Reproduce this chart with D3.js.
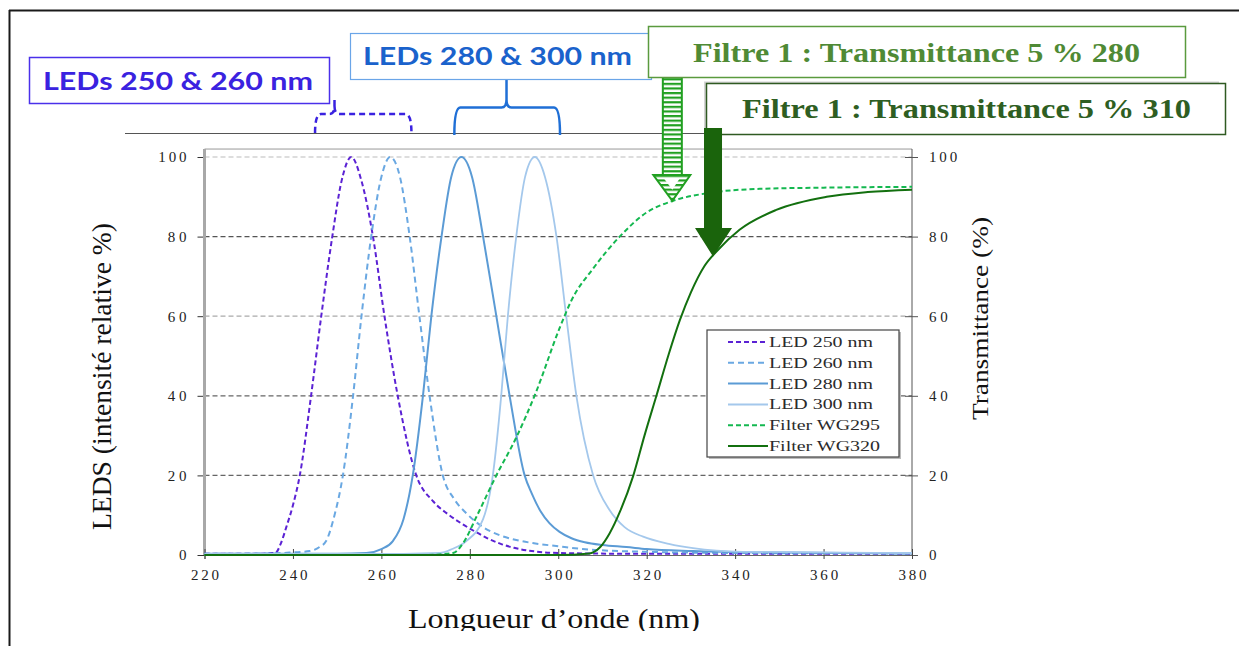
<!DOCTYPE html>
<html>
<head>
<meta charset="utf-8">
<script src="https://cdn.jsdelivr.net/npm/d3@7"></script>
<style>
  body { margin: 0; background: #fff; }
  svg { display: block; }
</style>
</head>
<body>
<svg id="chart" width="1239" height="646"></svg>
<script>
// Spectra (wavelength in nm, value in %)
var led250Nm  = [220, 230, 236, 237.3, 238.5, 240, 241.5, 244.1, 246.4, 248.9, 251, 253.2, 255.5, 258.1, 260.7, 263.7, 267.9, 271.7, 275, 278, 281, 284, 287, 290, 294, 300, 320, 350, 380];
var led250Val = [0.3, 0.3, 0.5, 3, 7, 12.5, 19.7, 40, 60, 80, 94, 100, 94, 80, 60, 40, 20, 13.5, 10.3, 8, 6, 4.2, 2.8, 1.8, 1, 0.5, 0.3, 0.3, 0.3];

var led260Nm  = [220, 235, 239.2, 243.8, 246, 247.5, 249.4, 251.3, 253.6, 255.5, 257.7, 260, 262, 264.2, 266.4, 268.6, 270.9, 273.9, 276.5, 279.2, 283, 286.7, 290, 294.2, 300, 305.5, 320, 340, 380];
var led260Val = [0.3, 0.4, 0.6, 1, 2, 3.5, 10, 20, 40, 60, 80, 95, 100, 95, 80, 60, 40, 20, 14, 10.5, 7, 5, 3.9, 3, 2.2, 1.5, 0.8, 0.5, 0.4];

var led280Nm  = [220, 250, 256.6, 260, 262.6, 265, 267.1, 269.4, 271.3, 273.6, 275.8, 278.1, 280.5, 283, 286, 289, 292.4, 294, 296, 298, 300.3, 303, 306, 310, 315.4, 320, 330.4, 350, 380];
var led280Val = [0.3, 0.3, 0.5, 1.5, 3.5, 9, 20, 40, 60, 80, 95, 100, 95, 80, 60, 40, 20, 15.5, 11, 8, 5.8, 4.2, 3.2, 2.5, 2, 1.5, 1, 0.6, 0.4];

var led300Nm  = [220, 265, 273.2, 276, 279.2, 283, 285.2, 287.1, 288.6, 290.5, 292.5, 294.7, 297, 299.6, 301.8, 304.1, 307.9, 311.6, 315, 319.2, 325, 330.5, 341.7, 380];
var led300Val = [0.3, 0.3, 0.5, 1.5, 3.5, 9, 20, 40, 60, 80, 95, 100, 95, 80, 60, 40, 20, 11.3, 7, 4.6, 2.8, 1.7, 0.8, 0.5];

var wg295Nm  = [220, 270, 276.2, 278.5, 281.5, 286, 290.5, 295, 300.3, 303, 307.9, 313.9, 319.9, 326, 334.3, 345.6, 360, 380];
var wg295Val = [0, 0, 0.5, 3, 9.6, 20, 29.5, 41, 57, 64, 72, 80, 86, 89, 91, 92, 92.3, 92.5];

var wg320Nm  = [220, 300, 307.1, 309.5, 311.6, 314, 316.9, 319.5, 322.2, 325, 327.5, 330, 333, 336, 341, 349.3, 360.7, 370, 380];
var wg320Val = [0, 0, 0.4, 2, 5.4, 11, 19.7, 30, 40, 50.5, 59, 66, 72.5, 76.5, 81.7, 86.7, 90, 91.2, 91.8];

var seriesNames  = ["LED 250 nm", "LED 260 nm", "LED 280 nm", "LED 300 nm", "Filter WG295", "Filter WG320"];
var seriesColors = ["#5b22d4", "#6aa8e2", "#5b9bd5", "#a4c8ec", "#14b850", "#13700f"];
var seriesDash   = ["5,3", "6,4", null, null, "5,3", null];
var seriesNm     = [led250Nm, led260Nm, led280Nm, led300Nm, wg295Nm, wg320Nm];
var seriesVal    = [led250Val, led260Val, led280Val, led300Val, wg295Val, wg320Val];

var xTicks = [220, 240, 260, 280, 300, 320, 340, 360, 380];
var yTicks = [0, 20, 40, 60, 80, 100];

var serif = "'Liberation Serif','Times New Roman',serif";
var svg = d3.select("#chart");

// Scales
var x = d3.scaleLinear().domain([220, 380]).range([204.5, 912]);
var y = d3.scaleLinear().domain([0, 100]).range([555, 157]);

// Outer frame of the picture
svg.append("line").attr("x1", 9).attr("x2", 1239).attr("y1", 10.5).attr("y2", 10.5)
  .style("stroke", "#1a1a1a").style("stroke-width", 2);
svg.append("line").attr("x1", 9.5).attr("x2", 9.5).attr("y1", 10).attr("y2", 646)
  .style("stroke", "#1a1a1a").style("stroke-width", 2);

// Plot frame
svg.append("line").attr("x1", x(220)).attr("x2", x(380)).attr("y1", y(102)).attr("y2", y(102))
  .style("stroke", "#999").style("stroke-width", 1);

// Dashed gridlines
var gridColor = {20: "#666", 40: "#666", 60: "#aaa", 80: "#555", 100: "#bbb"};
svg.append("g").selectAll("line")
  .data(yTicks.filter(function(d) { return d > 0; }))
  .enter().append("line")
  .attr("x1", x(220)).attr("x2", x(380))
  .attr("y1", function(d) { return y(d); })
  .attr("y2", function(d) { return y(d); })
  .style("stroke", function(d) { return gridColor[d]; })
  .style("stroke-width", 1.2)
  .style("stroke-dasharray", "5,3");

// Axes
function fitLen(d) { var n = String(d).length; return n > 1 ? n * 9.4 : null; }

var leftAxis = svg.append("g").attr("transform", "translate(" + x(220) + ",0)")
  .call(d3.axisLeft(y).tickValues(yTicks).tickSize(7).tickPadding(11));
leftAxis.select(".domain").remove();
leftAxis.selectAll("line").style("stroke", "#333");
leftAxis.selectAll("text").attr("textLength", fitLen);

svg.append("line").attr("x1", x(220)).attr("x2", x(220)).attr("y1", y(102)).attr("y2", y(0))
  .style("stroke", "#a8a8a8").style("stroke-width", 3);

var rightAxis = svg.append("g").attr("transform", "translate(" + x(380) + ",0)")
  .call(d3.axisRight(y).tickValues(yTicks).tickSize(6).tickPadding(11));
rightAxis.select(".domain").attr("d", "M0," + y(102) + "V" + y(0)).style("stroke", "#555");
rightAxis.selectAll("line").attr("x1", -7).style("stroke", "#555");
rightAxis.selectAll("text").attr("textLength", fitLen);

var bottomAxis = svg.append("g").attr("transform", "translate(0," + y(0) + ")")
  .call(d3.axisBottom(x).tickValues(xTicks).tickSize(4).tickPadding(10));
bottomAxis.select(".domain").style("stroke", "#666");
bottomAxis.selectAll("line").attr("y1", -6).style("stroke", "#444");
bottomAxis.selectAll("text").attr("textLength", fitLen);

svg.selectAll(".tick text")
  .style("font-family", serif).style("font-size", "15px").style("fill", "#222");

// Curves
var line = d3.line().curve(d3.curveMonotoneX);
seriesNames.forEach(function(name, i) {
  var pts = seriesNm[i].map(function(nm, j) { return [x(nm), y(seriesVal[i][j])]; });
  svg.append("path")
    .attr("d", line(pts))
    .style("fill", "none")
    .style("stroke", seriesColors[i])
    .style("stroke-width", i == 3 ? 1.8 : 2)
    .style("stroke-dasharray", seriesDash[i]);
});

// Legend
var lg = svg.append("g").attr("transform", "translate(707,330)");
lg.append("rect").attr("x", 2).attr("y", 2).attr("width", 192).attr("height", 127).style("fill", "#bbb");
lg.append("rect").attr("width", 192).attr("height", 127)
  .style("fill", "#fff").style("stroke", "#444").style("stroke-width", 1.2);
seriesNames.forEach(function(name, i) {
  var ry = 12 + i * 20.8;
  lg.append("line").attr("x1", 21).attr("x2", 61).attr("y1", ry).attr("y2", ry)
    .style("stroke", seriesColors[i]).style("stroke-width", 2)
    .style("stroke-dasharray", seriesDash[i]);
  lg.append("text").attr("x", 62).attr("y", ry + 5)
    .attr("textLength", i < 4 ? 104 : 111)
    .attr("lengthAdjust", "spacingAndGlyphs")
    .style("font-family", serif).style("font-size", "14px").style("fill", "#2b2b2b")
    .text(name);
});

// Axis titles
svg.append("text")
  .attr("transform", "translate(111,376.5) rotate(-90)")
  .attr("text-anchor", "middle").attr("textLength", 307).attr("lengthAdjust", "spacingAndGlyphs")
  .style("font-family", serif).style("font-size", "28px").style("fill", "#111")
  .text("LEDS (intensité relative %)");

svg.append("text")
  .attr("transform", "translate(988,318.5) rotate(-90)")
  .attr("text-anchor", "middle").attr("textLength", 203).attr("lengthAdjust", "spacingAndGlyphs")
  .style("font-family", serif).style("font-size", "24px").style("fill", "#111")
  .text("Transmittance (%)");

svg.append("text")
  .attr("x", 554).attr("y", 628)
  .attr("text-anchor", "middle").attr("textLength", 292).attr("lengthAdjust", "spacingAndGlyphs")
  .style("font-family", serif).style("font-size", "28px").style("fill", "#111")
  .text("Longueur d\u2019onde (nm)");
// the picture is cut just under the title
svg.append("rect").attr("x", 300).attr("y", 631).attr("width", 500).attr("height", 15).style("fill", "#fff");

// ---- Annotations above the plot ----
svg.append("line").attr("x1", 125).attr("x2", 705).attr("y1", 133.5).attr("y2", 133.5)
  .style("stroke", "#555").style("stroke-width", 1.2);

// Curly brace: ends at nm0/nm1, tip at nmTip
function bracePath(nm0, nm1, nmTip, yBase, yFlat, yTop) {
  var x0 = x(nm0), x1 = x(nm1), xt = x(nmTip);
  return "M" + x0 + "," + yBase +
    "Q" + x0 + "," + yFlat + " " + (x0 + 6) + "," + yFlat +
    "L" + (xt - 5) + "," + yFlat +
    "Q" + xt + "," + yFlat + " " + xt + "," + (yFlat - 8) +
    "L" + xt + "," + yTop +
    "M" + xt + "," + (yFlat - 8) +
    "Q" + xt + "," + yFlat + " " + (xt + 5) + "," + yFlat +
    "L" + (x1 - 6) + "," + yFlat +
    "Q" + x1 + "," + yFlat + " " + x1 + "," + yBase;
}

svg.append("path").attr("d", bracePath(245, 266.8, 249.4, 133, 114, 97))
  .style("fill", "none").style("stroke", "#3a22e0").style("stroke-width", 2.5)
  .style("stroke-dasharray", "6,4");
svg.append("path").attr("d", bracePath(276.5, 300.4, 288.3, 135, 107.5, 80))
  .style("fill", "none").style("stroke", "#1f6fd6").style("stroke-width", 2.5);

// LED labels
svg.append("rect").attr("x", 29.5).attr("y", 57.5).attr("width", 300).attr("height", 46)
  .style("fill", "#fff").style("stroke", "#4a30ea").style("stroke-width", 1.5);
svg.append("text").attr("x", 43).attr("y", 90)
  .attr("textLength", 270).attr("lengthAdjust", "spacingAndGlyphs")
  .style("font-family", "Lato, 'Open Sans', sans-serif").style("font-weight", "bold")
  .style("font-size", "24px").style("fill", "#3a22e0")
  .text("LEDs 250 & 260 nm");

svg.append("rect").attr("x", 350.5).attr("y", 33.5).attr("width", 301).attr("height", 46)
  .style("fill", "#fff").style("stroke", "#6aa5e8").style("stroke-width", 1.2);
svg.append("text").attr("x", 363).attr("y", 65)
  .attr("textLength", 269).attr("lengthAdjust", "spacingAndGlyphs")
  .style("font-family", "Lato, 'Open Sans', sans-serif").style("font-weight", "bold")
  .style("font-size", "24px").style("fill", "#1a62cc")
  .text("LEDs 280 & 300 nm");

// Striped arrow (WG295 at 5 %)
var defs = svg.append("defs");
var pat = defs.append("pattern").attr("id", "stripes")
  .attr("patternUnits", "userSpaceOnUse").attr("width", 8).attr("height", 4.6);
pat.append("rect").attr("width", 8).attr("height", 4.6).style("fill", "#fff");
pat.append("rect").attr("width", 8).attr("height", 2.2).style("fill", "#21a021");

var ax1 = x(325.8), tip1 = y(89);
svg.append("rect").attr("x", ax1 - 9.5).attr("y", 77).attr("width", 19).attr("height", 98)
  .style("fill", "url(#stripes)").style("stroke", "#21a021").style("stroke-width", 2);
svg.append("path")
  .attr("d", "M" + (ax1 - 19) + ",175L" + (ax1 + 18) + ",175L" + ax1 + "," + tip1 + "Z")
  .style("fill", "url(#stripes)").style("stroke", "#21a021").style("stroke-width", 2);
svg.append("path")
  .attr("d", "M" + (ax1 - 8) + ",179L" + (ax1 + 7) + ",179L" + ax1 + "," + (tip1 - 11) + "Z")
  .style("fill", "#fff");

// Filter 280 label
svg.append("rect").attr("x", 648.5).attr("y", 26.5).attr("width", 537).attr("height", 51)
  .style("fill", "#fff").style("stroke", "#5a9a3e").style("stroke-width", 1.5);
svg.append("text").attr("x", 693).attr("y", 62)
  .attr("textLength", 447).attr("lengthAdjust", "spacingAndGlyphs")
  .style("font-family", serif).style("font-weight", "bold")
  .style("font-size", "27px").style("fill", "#4f8a35")
  .text("Filtre 1 : Transmittance 5 % 280");

// Filter 310 label
svg.append("rect").attr("x", 704).attr("y", 81.5).attr("width", 515).attr("height", 51).style("fill", "#d4d4d4");
svg.append("rect").attr("x", 706.5).attr("y", 83.5).attr("width", 519).attr("height", 51)
  .style("fill", "#fff").style("stroke", "#2f5a22").style("stroke-width", 1.5);
svg.append("text").attr("x", 742).attr("y", 118)
  .attr("textLength", 449).attr("lengthAdjust", "spacingAndGlyphs")
  .style("font-family", serif).style("font-weight", "bold")
  .style("font-size", "27px").style("fill", "#2e5e22")
  .text("Filtre 1 : Transmittance 5 % 310");

// Solid arrow (WG320 at 5 %)
var ax2 = x(335), tip2 = y(75);
svg.append("path")
  .attr("d", "M" + (ax2 - 9) + ",128V228H" + (ax2 - 18) + "L" + ax2 + "," + tip2 +
       "L" + (ax2 + 19) + ",228H" + (ax2 + 9) + "V128Z")
  .style("fill", "#1a640c");
</script>
</body>
</html>
